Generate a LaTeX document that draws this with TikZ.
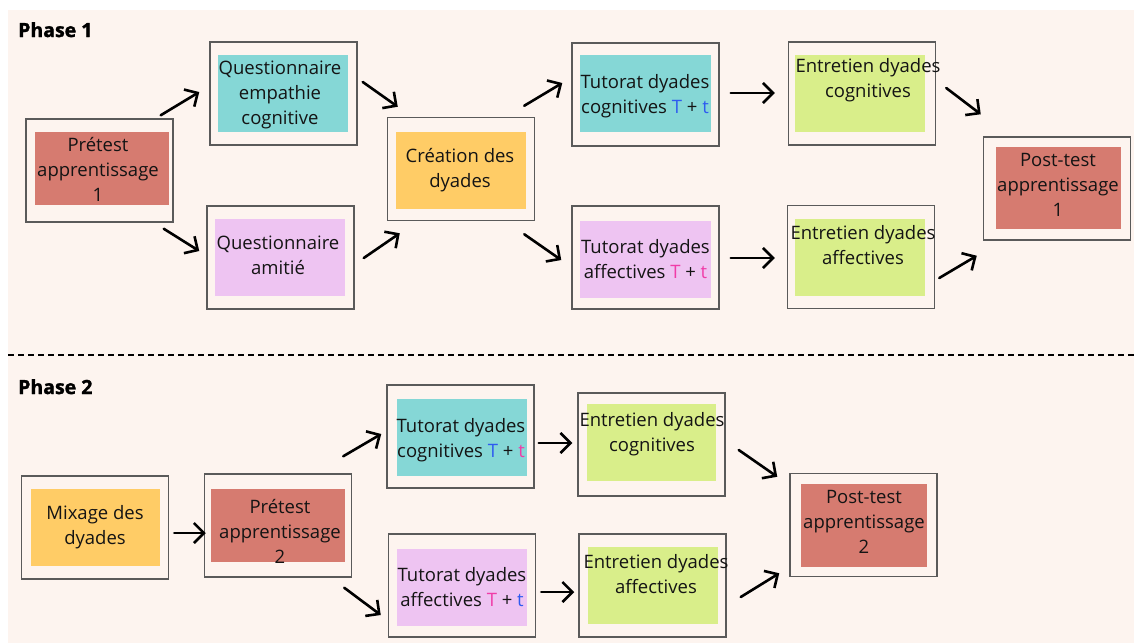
\documentclass[tikz,border=0pt]{standalone}
\usepackage{fontspec}
\setmainfont{Open Sans}
\newfontfamily\heavyfont{Open Sans}[BoldFeatures={FakeBold=1.6}]
\usetikzlibrary{arrows.meta, positioning, calc}
\definecolor{panelbg}{RGB}{253, 244, 239}
\definecolor{pretestred}{RGB}{214, 123, 112}
\definecolor{cogncyan}{RGB}{133, 215, 214}
\definecolor{affectlilac}{RGB}{238, 196, 242}
\definecolor{dyadorange}{RGB}{255, 204, 102}
\definecolor{interviewgreen}{RGB}{217, 238, 138}
\definecolor{tblue}{RGB}{46, 91, 240}
\definecolor{tpink}{RGB}{240, 60, 168}
\definecolor{framegray}{RGB}{90, 90, 90}

\begin{document}
\begin{tikzpicture}[x=1pt, y=-1pt,
  frame/.style={draw=framegray, line width=1.5pt, minimum width=147pt, minimum height=103pt, inner sep=0pt},
  card/.style={minimum width=130pt, minimum height=77pt, inner sep=0pt},
  txt/.style={align=center, font=\fontsize{18.5}{25}\selectfont, text=black!92, inner sep=0pt},
  phase/.style={anchor=base west, inner sep=0pt, font=\fontsize{19.5}{22}\selectfont\heavyfont\bfseries},
  flow/.style={-{Straight Barb[length=10pt, width=20pt]}, line width=2.6pt, line cap=round}]

  \useasboundingbox (0, 0) rectangle (1134, 643);
  \fill[panelbg] (8, 10) rectangle (1134, 643);

  % Phase 1
  \node[phase] (ph1) at (18, 37) {Phase 1};

  \node[frame] (pre1) at (99.5, 170.5) {};
  \node[card, fill=pretestred, minimum width=134pt, minimum height=73pt] (pre1c) at (102, 168.5) {};
  \node[txt] (pre1t) at (98, 169.5) {Prétest\\apprentissage\\1};

  \node[frame] (qemp) at (283.5, 93.5) {};
  \node[card, fill=cogncyan] (qempc) at (283, 93.5) {};
  \node[txt] (qempt) at (280, 95) {Questionnaire\\empathie\\cognitive};

  \node[frame] (qami) at (280.5, 257.5) {};
  \node[card, fill=affectlilac] (qamic) at (280, 257.5) {};
  \node[txt] (qamit) at (278, 255) {Questionnaire\\amitié};

  \node[frame] (crea) at (461, 169) {};
  \node[card, fill=dyadorange] (creac) at (461, 170.5) {};
  \node[txt] (creat) at (460, 170) {Création des\\dyades};

  \node[frame] (tcog) at (645.5, 94.5) {};
  \node[card, fill=cogncyan, minimum width=131pt] (tcogc) at (645.5, 93.5) {};
  \node[txt] (tcogt) at (645, 96) {Tutorat dyades\\cognitives \textcolor{tblue}{T} + \textcolor{tblue}{t}};

  \node[frame] (taff) at (645.5, 257.5) {};
  \node[card, fill=affectlilac, minimum width=131pt] (taffc) at (645.5, 259) {};
  \node[txt] (tafft) at (645.5, 259) {Tutorat dyades\\affectives \textcolor{tpink}{T} + \textcolor{tpink}{t}};

  \node[frame] (ecog) at (862, 93.5) {};
  \node[card, fill=interviewgreen] (ecogc) at (860, 93.5) {};
  \node[txt] (ecogt) at (868, 80) {Entretien dyades\\cognitives};

  \node[frame] (eaff) at (861, 257) {};
  \node[card, fill=interviewgreen] (eaffc) at (860, 257.5) {};
  \node[txt] (eafft) at (863, 245) {Entretien dyades\\affectives};

  \node[frame] (post1) at (1057, 188.5) {};
  \node[card, fill=pretestred, minimum width=125pt, minimum height=82pt] (post1c) at (1058.5, 188) {};
  \node[txt] (post1t) at (1058, 185) {Post-test\\apprentissage\\1};

  \draw[flow] ($(pre1.north east)+(-13, -3)$) -- ($(qemp.west)+(-10, -1.5)$);
  \draw[flow] ($(pre1.south east)+(-10, 6)$) -- ($(qami.west)+(-7, -6.5)$);
  \draw[flow] ($(qemp.east)+(5, -11.5)$) -- ($(crea.north west)+(11, -10)$);
  \draw[flow] ($(qami.east)+(9, 0.5)$) -- ($(crea.south west)+(13, 12)$);
  \draw[flow] ($(crea.north east)+(-11, -11)$) -- ($(tcog.west)+(-9, -11.5)$);
  \draw[flow] ($(crea.south east)+(-11, 13)$) -- ($(taff.west)+(-10, 2.5)$);
  \draw[flow] ($(tcog.east)+(11, -1.5)$) -- ($(ecog.west)+(-13, -0.5)$);
  \draw[flow] ($(taff.east)+(11, 0.5)$) -- ($(eaff.west)+(-12, 1)$);
  \draw[flow] ($(ecog.east)+(10, -5.5)$) -- ($(post1.north west)+(-2, -22)$);
  \draw[flow] ($(eaff.east)+(4, 21)$) -- ($(post1.south west)+(-6, 15)$);

  % separator
  \coordinate (sepL) at (8, 355);
  \coordinate (sepR) at (1134, 355);
  \draw[line width=1.8pt, dash pattern=on 6pt off 4pt] (sepL) -- (sepR);

  % Phase 2
  \node[phase] (ph2) at (18, 394) {Phase 2};

  \node[frame] (mix) at (95, 527.5) {};
  \node[card, fill=dyadorange, minimum width=129pt] (mixc) at (95.5, 527.5) {};
  \node[txt] (mixt) at (95, 527) {Mixage des\\dyades};

  \node[frame] (pre2) at (278, 525.5) {};
  \node[card, fill=pretestred, minimum width=134pt, minimum height=73pt] (pre2c) at (278, 525.5) {};
  \node[txt] (pre2t) at (280, 531) {Prétest\\apprentissage\\2};

  \node[frame] (tcog2) at (460.5, 436.5) {};
  \node[card, fill=cogncyan] (tcog2c) at (462, 437.5) {};
  \node[txt] (tcog2t) at (461, 440) {Tutorat dyades\\cognitives \textcolor{tblue}{T} + \textcolor{tpink}{t}};

  \node[frame] (taff2) at (462, 585.5) {};
  \node[card, fill=affectlilac] (taff2c) at (462, 587.5) {};
  \node[txt] (taff2t) at (462, 587.5) {Tutorat dyades\\affectives \textcolor{tpink}{T} + \textcolor{tblue}{t}};

  \node[frame] (ecog2) at (651.5, 444.5) {};
  \node[card, fill=interviewgreen, minimum width=129pt] (ecog2c) at (651.5, 442.5) {};
  \node[txt] (ecog2t) at (652, 434.5) {Entretien dyades\\cognitives};

  \node[frame] (eaff2) at (652.5, 585.5) {};
  \node[card, fill=interviewgreen] (eaff2c) at (653, 585.5) {};
  \node[txt] (eaff2t) at (656, 574.5) {Entretien dyades\\affectives};

  \node[frame] (post2) at (863.5, 525) {};
  \node[card, fill=pretestred, minimum width=126pt, minimum height=83pt] (post2c) at (864, 525.5) {};
  \node[txt] (post2t) at (864, 522) {Post-test\\apprentissage\\2};

  \draw[flow] ($(mix.east)+(5, 5.5)$) -- ($(pre2.west)+(2, 7.5)$);
  \draw[flow] ($(pre2.north east)+(-9, -17)$) -- ($(tcog2.west)+(-5, -2.5)$);
  \draw[flow] ($(pre2.south east)+(-8, 10)$) -- ($(taff2.west)+(-7, 29.5)$);
  \draw[flow] ($(tcog2.east)+(4, 6.5)$) -- ($(ecog2.west)+(-5, -1.5)$);
  \draw[flow] ($(taff2.east)+(5, 6.5)$) -- ($(eaff2.west)+(-4, 6.5)$);
  \draw[flow] ($(ecog2.east)+(13, 5.5)$) -- ($(post2.north west)+(-12, 4)$);
  \draw[flow] ($(eaff2.east)+(14, 11.5)$) -- ($(post2.south west)+(-10, -4)$);
\end{tikzpicture}
\end{document}
